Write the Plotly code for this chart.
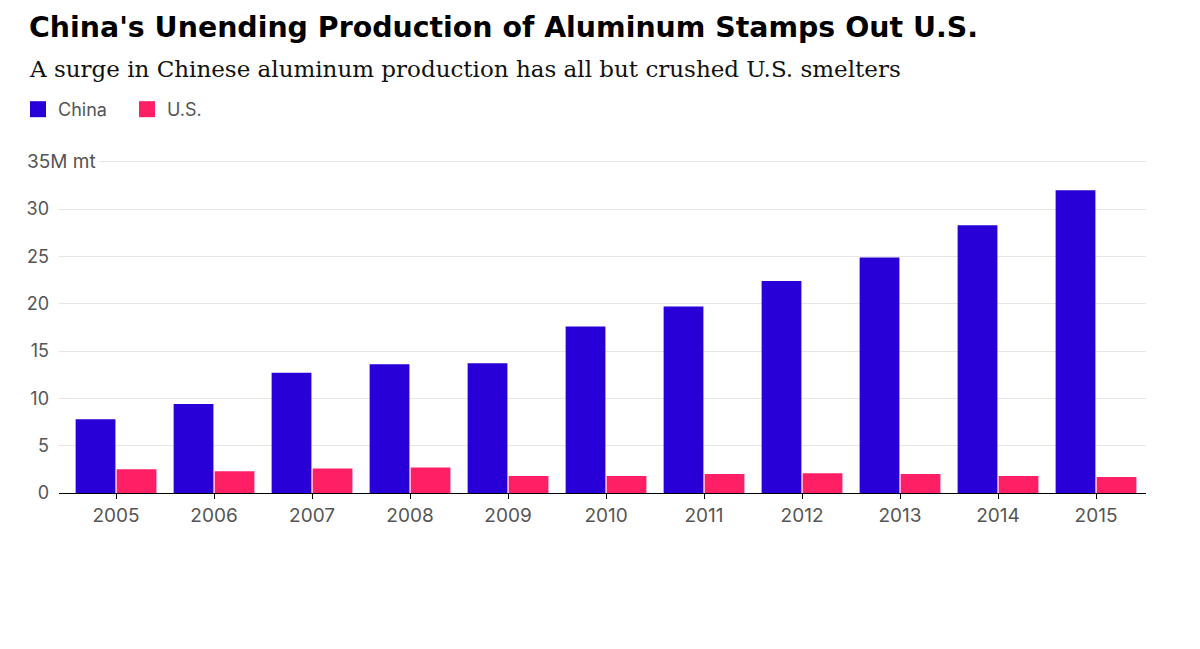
import plotly.graph_objects as go

# ---- data ----
YEARS = ["2005", "2006", "2007", "2008", "2009", "2010", "2011", "2012", "2013", "2014", "2015"]
CHINA = [7.8, 9.4, 12.7, 13.6, 13.7, 17.6, 19.7, 22.4, 24.9, 28.3, 32.0]
US = [2.5, 2.3, 2.6, 2.7, 1.8, 1.8, 2.0, 2.1, 2.0, 1.8, 1.7]
SERIES_NAMES = ["China", "U.S."]
Y_TICK_VALUES = [0, 5, 10, 15, 20, 25, 30, 35]
Y_TICK_TEXT = ["0", "5", "10", "15", "20", "25", "30", ""]
Y_TOP_LABEL = "35M mt"
TITLE = "China's Unending Production of Aluminum Stamps Out U.S."
SUBTITLE = "A surge in Chinese aluminum production has all but crushed U.S. smelters"

COLORS = ["#2800D7", "#FF1F64"]
SANS = "Inter, 'DejaVu Sans', sans-serif"
SERIF = "'DejaVu Serif', serif"
GREY = "#555555"

fig = go.Figure()
for name, vals, col in zip(SERIES_NAMES, [CHINA, US], COLORS):
    fig.add_trace(go.Bar(x=YEARS, y=vals, name=name, marker=dict(color=col, line=dict(width=0)),
                         showlegend=False))
# legend proxies (square swatches)
for name, col in zip(SERIES_NAMES, COLORS):
    fig.add_trace(go.Scatter(x=[None], y=[None], mode="markers", name=name,
                             marker=dict(symbol="square", size=18, color=col)))

L, R, T, B = 59, 54, 159, 156
W, H = 1200, 649
ph = H - T - B
pw = W - L - R

def py(pixel_y):
    return (H - B - pixel_y) / ph

def px(pixel_x):
    return (pixel_x - L) / pw

fig.update_layout(
    width=W, height=H,
    margin=dict(l=L, r=R, t=T, b=B, pad=0),
    paper_bgcolor="white", plot_bgcolor="white",
    barmode="group", bargap=0.163, bargroupgap=0.03,
    font=dict(family=SANS, color=GREY, size=18),
    showlegend=True,
    legend=dict(orientation="h", x=px(18), xanchor="left", y=py(109.5), yanchor="middle",
                font=dict(family=SANS, size=18, color=GREY), itemsizing="trace",
                entrywidth=64, entrywidthmode="pixels", bgcolor="rgba(0,0,0,0)"),
    xaxis=dict(type="category", range=[-0.582, 10.51], showgrid=False, showline=True,
               linecolor="black", linewidth=1,
               ticks="outside", ticklen=5, tickcolor="black", tickwidth=1,
               tickfont=dict(family=SANS, size=19, color=GREY), fixedrange=True),
    yaxis=dict(range=[0, 35.3], tickvals=Y_TICK_VALUES, ticktext=Y_TICK_TEXT,
               showgrid=True, gridcolor="#e6e6e6", gridwidth=1, zeroline=False,
               showline=False, ticks="", ticklabelstandoff=9,
               tickfont=dict(family=SANS, size=18, color=GREY), fixedrange=True),
    annotations=[
        dict(text=TITLE, xref="paper", yref="paper", x=px(27), y=py(27.5), xanchor="left",
             yanchor="middle", showarrow=False,
             font=dict(family="'DejaVu Sans', sans-serif", size=28.4, color="black", weight=700)),
        dict(text=SUBTITLE, xref="paper", yref="paper", x=px(27), y=py(68.5), xanchor="left",
             yanchor="middle", showarrow=False,
             font=dict(family=SERIF, size=23, color="#111111")),
        dict(text=Y_TOP_LABEL, xref="paper", yref="y", x=px(23), y=35, xanchor="left",
             yanchor="middle", showarrow=False, bgcolor="white", borderpad=3,
             font=dict(family=SANS, size=19, color=GREY)),
    ],
)

fig.write_html("out.html", config={"displayModeBar": False},
               post_script="document.body.style.margin='0';")
